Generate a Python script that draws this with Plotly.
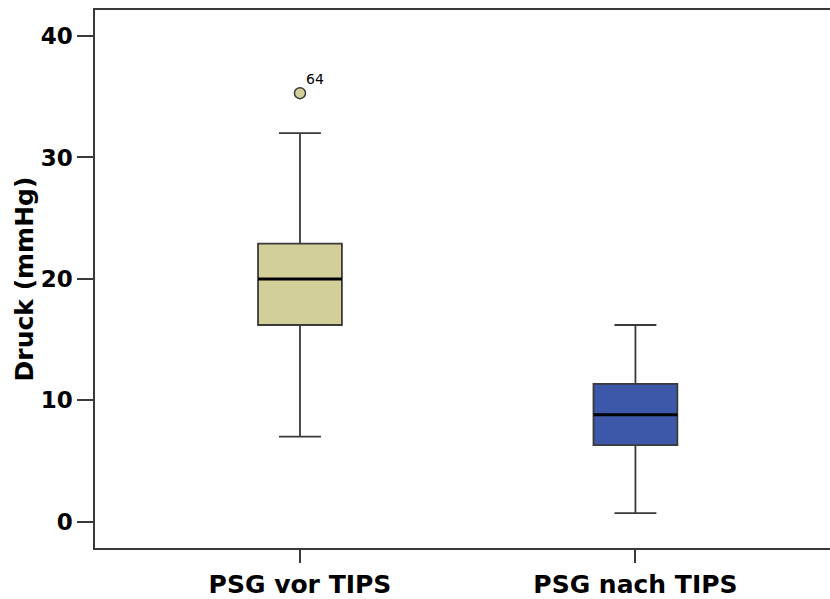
import plotly.graph_objects as go

# Box plot summary statistics (mmHg)
groups = ["PSG vor TIPS", "PSG nach TIPS"]
positions = [1, 2]
lower_whisker = [7.0, 0.7]
q1 = [16.2, 6.3]
median = [20.0, 8.8]
q3 = [22.9, 11.35]
upper_whisker = [32.0, 16.2]
fill_colors = ["#d3cf98", "#3e58a9"]

# Outlier
outlier_group = [1]
outlier_value = [35.3]
outlier_label = ["64"]

y_ticks = [0, 10, 20, 30, 40]

line_color = "#3a3a3a"
box_width = 0.25
font_family = "DejaVu Sans"

fig = go.Figure()

for i in range(len(groups)):
    fig.add_trace(go.Box(
        x=[positions[i]],
        q1=[q1[i]], median=[median[i]], q3=[q3[i]],
        lowerfence=[lower_whisker[i]], upperfence=[upper_whisker[i]],
        width=box_width, whiskerwidth=0.5,
        fillcolor=fill_colors[i],
        line=dict(color=line_color, width=1.8),
        boxpoints=False, showlegend=False, hoverinfo="skip",
    ))
    # bold median line
    fig.add_trace(go.Scatter(
        x=[positions[i] - box_width / 2, positions[i] + box_width / 2],
        y=[median[i], median[i]],
        mode="lines", line=dict(color="black", width=3),
        showlegend=False, hoverinfo="skip",
    ))

fig.add_trace(go.Scatter(
    x=outlier_group, y=outlier_value, mode="markers",
    marker=dict(size=11, color=fill_colors[0], line=dict(color=line_color, width=1.5)),
    showlegend=False, hoverinfo="skip",
))

for gx, gy, lab in zip(outlier_group, outlier_value, outlier_label):
    fig.add_annotation(
        x=gx, y=gy, text=lab, showarrow=False,
        xshift=15, yshift=14,
        font=dict(family=font_family, size=14, color="black"),
    )

fig.update_layout(
    width=830, height=599,
    margin=dict(l=95, r=0, t=10, b=51),
    plot_bgcolor="white", paper_bgcolor="white",
    font=dict(family=font_family, color="black"),
    xaxis=dict(
        range=[0.389, 2.58], automargin=False,
        tickvals=positions, ticktext=groups,
        ticks="outside", ticklen=13, tickwidth=1.5, tickcolor=line_color,
        showline=True, linecolor=line_color, linewidth=1.5, mirror=True,
        showgrid=False, zeroline=False,
        tickfont=dict(family=font_family, size=25, weight="bold", color="black"),
    ),
    yaxis=dict(
        range=[-2.17, 42.15], automargin=False,
        tickvals=y_ticks,
        ticks="outside", ticklen=16, tickwidth=1.5, tickcolor=line_color,
        showline=True, linecolor=line_color, linewidth=1.5, mirror=False,
        showgrid=False, zeroline=False,
        tickfont=dict(family=font_family, size=23, weight="bold", color="black"),
        title=dict(text="Druck (mmHg)", standoff=0,
                   font=dict(family=font_family, size=25, weight="bold", color="black")),
    ),
)

fig.write_html("out.html")
